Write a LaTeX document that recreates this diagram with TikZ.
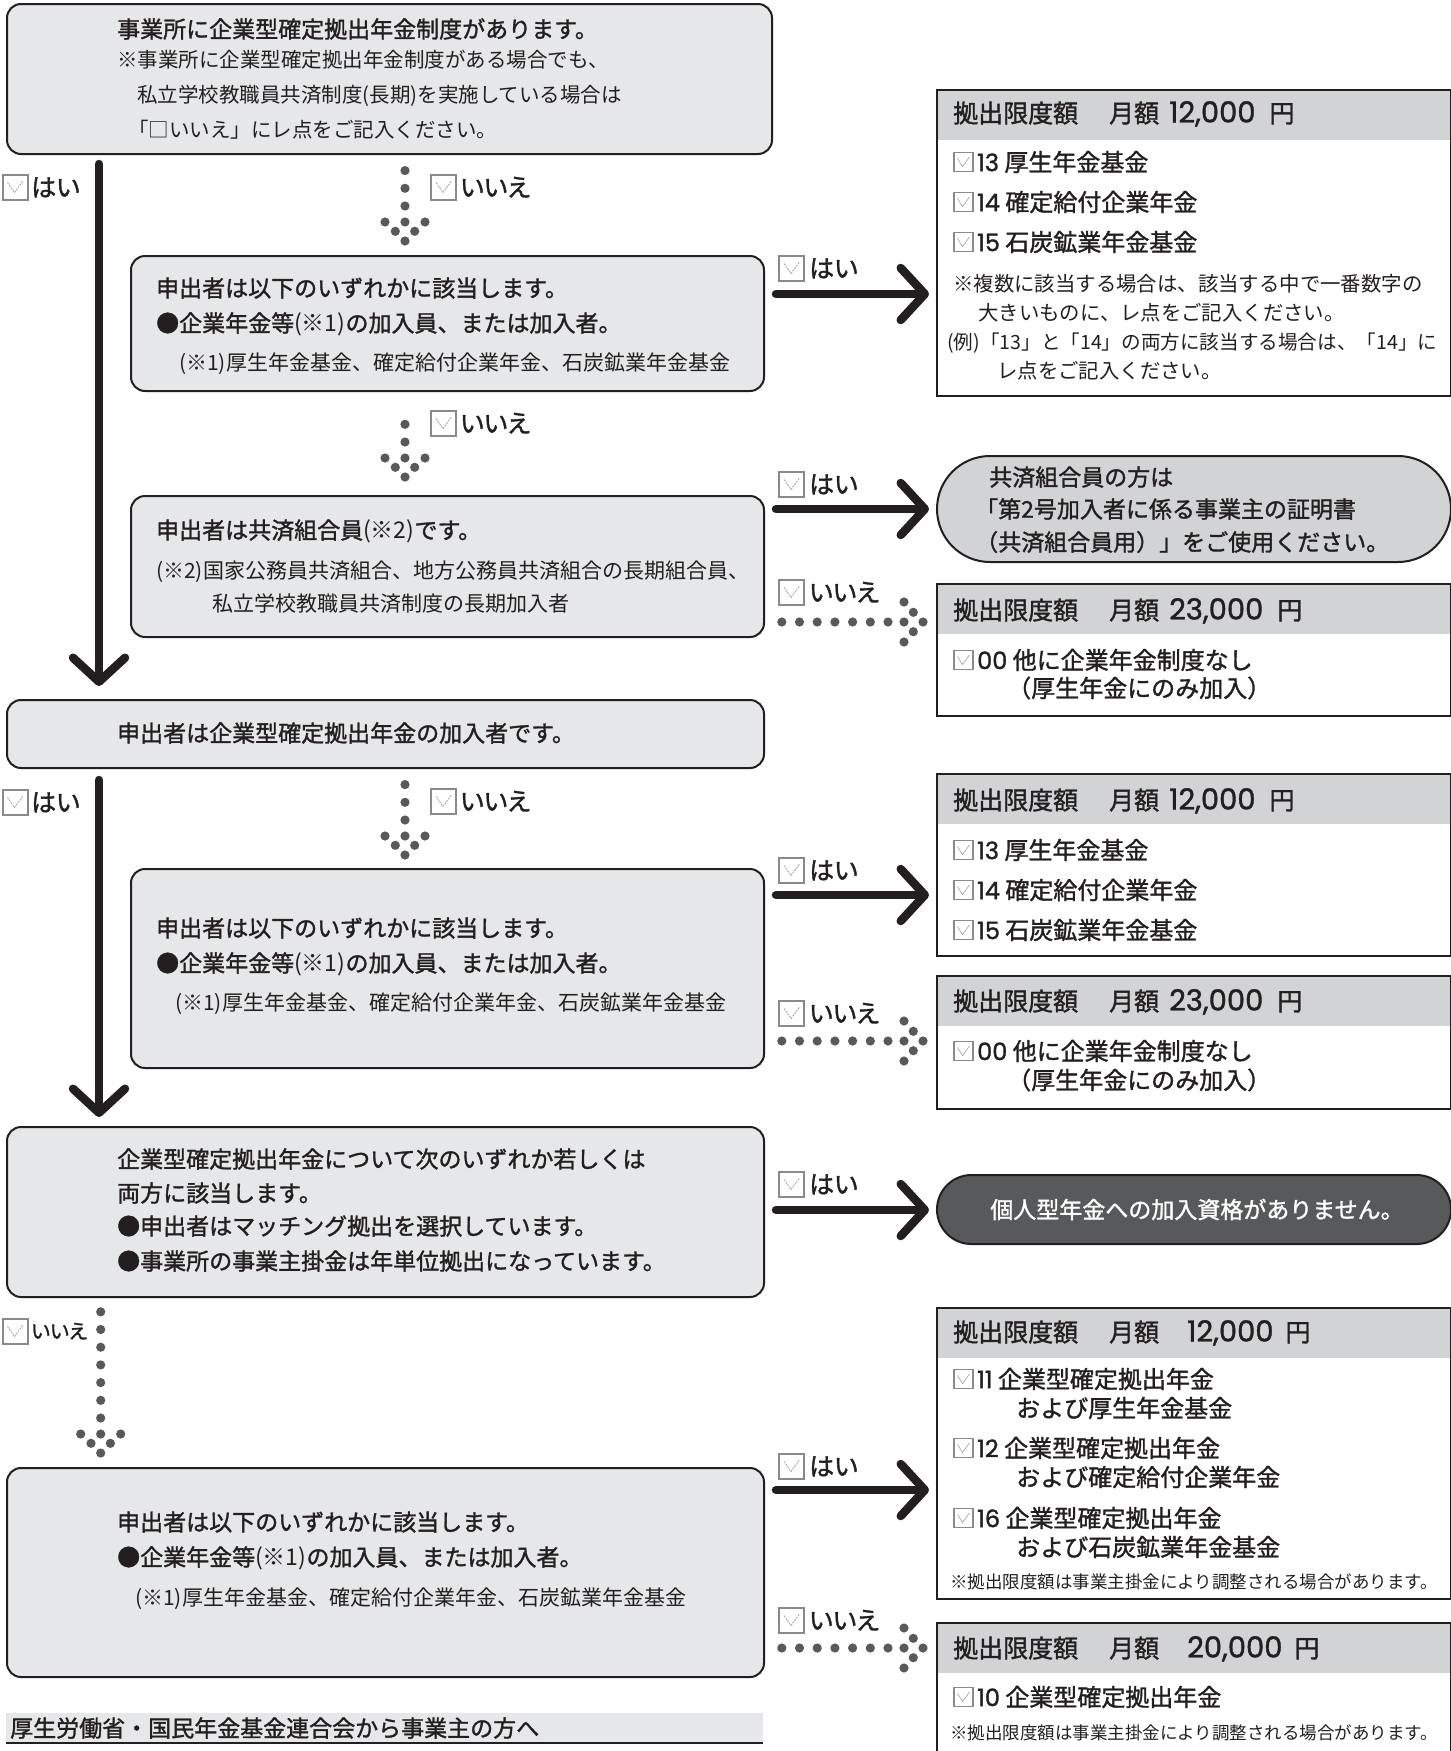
\documentclass[tikz,border=0pt]{standalone}
\usepackage{fontspec}
\setmainfont{Noto Sans CJK JP}
\newfontfamily\medf{Noto Sans CJK JP}[FakeBold=1.4]
\newfontfamily\labf{Noto Sans CJK JP}[RawFeature=+palt, FakeBold=1.4]
\newfontfamily\numf{Poppins}[FakeBold=1.3]
\usetikzlibrary{arrows.meta,calc,decorations.markings}
\definecolor{ink}{HTML}{231F20}
\definecolor{boxfill}{HTML}{E6E7E8}
\definecolor{band}{HTML}{D1D3D4}
\definecolor{darkpill}{HTML}{58595B}
\definecolor{dotc}{HTML}{58595B}
\definecolor{cbgray}{HTML}{8A8A8A}
\definecolor{cbtick}{HTML}{A7A9AC}
\newcommand\fs[1]{\fontsize{#1pt}{#1pt}\selectfont}
\newcommand\nm[1]{{\numf #1}}
\newcommand\hn[1]{{\fs{29}\numf #1}}
\newcommand\dothd{\fill[dotc] (0pt,0pt) circle (4.6pt) (9.7pt,9.7pt) circle (4.6pt) (9.7pt,-9.7pt) circle (4.6pt) (19pt,20pt) circle (4.6pt) (19pt,-20pt) circle (4.6pt) (19pt,0pt) circle (4.6pt);}
\tikzset{
  lbox/.style={draw=ink, line width=2pt, fill=boxfill, rounded corners=14pt, anchor=north west, inner sep=0pt},
  rbox/.style={draw=ink, line width=2pt, fill=white, anchor=north west, inner sep=0pt,
    path picture={\fill[band] (path picture bounding box.north west) rectangle ([yshift=-50pt]path picture bounding box.north east);}},
  T/.style={anchor=base west, inner sep=0pt, text=ink, font=\fs{#1}, yshift={-0.38*#1pt}},
  TB/.style={T=#1, font={\fs{#1}\medf}},
  LB/.style={T=#1, font={\fs{#1}\labf}},
  bigarr/.style={draw=ink, line width=8.5pt, line cap=round, -{Straight Barb[length=24pt,width=52pt,round]}},
  dotarrow/.style={decoration={markings,
      mark=at position 0 with {\dothd},
      mark=between positions 35pt and 1 step 17.7pt with {\fill[dotc] (0pt,0pt) circle (4.6pt);}},
    postaction={decorate}},
  cbL/.pic={\draw[cbgray, line width=2pt, fill=white] (-12.5,-12.5) rectangle (12.5,12.5);
            \draw[cbtick, line width=0.9pt, dash pattern=on 2pt off 1pt] (-7.5,-4.5) -- (-0.5,5.5) -- (8,-6);},
  cbS/.pic={\draw[cbgray, line width=1.2pt, fill=white] (-9.5,-9.5) rectangle (9.5,9.5);
            \draw[cbtick, line width=0.7pt] (-6,-3.5) -- (-1,4.5) -- (6,-5);}
}
\begin{document}
\begin{tikzpicture}[x=1pt,y=-1pt]
\useasboundingbox (0,0) rectangle (1451,1751);
\clip (0,0) rectangle (1451,1751);
\fill[white] (0,0) rectangle (1451,1751);

% ---------- left boxes ----------
\node[lbox, minimum width=765pt, minimum height=150pt] (b1) at (6,3) {};
\node[lbox, minimum width=633pt, minimum height=135pt] (b2) at (130,255) {};
\node[lbox, minimum width=633pt, minimum height=141pt] (b3) at (130,495) {};
\node[lbox, minimum width=757pt, minimum height=68pt] (b4) at (6,699) {};
\node[lbox, minimum width=633pt, minimum height=199pt] (b5) at (130,868) {};
\node[lbox, minimum width=757pt, minimum height=170pt] (b6) at (6,1126) {};
\node[lbox, minimum width=757pt, minimum height=209pt] (b7) at (6,1467) {};

% ---------- right boxes ----------
\node[rbox, minimum width=514pt, minimum height=306pt] (r1) at (936,89) {};
\node[draw=ink, line width=2pt, fill=band, rounded corners=53pt, anchor=north west, inner sep=0pt, minimum width=514pt, minimum height=106pt] (p1) at (936,455) {};
\node[rbox, minimum width=514pt, minimum height=132pt] (r2) at (936,583) {};
\node[rbox, minimum width=514pt, minimum height=182pt] (r3) at (936,773) {};
\node[rbox, minimum width=514pt, minimum height=133pt] (r4) at (936,975) {};
\node[draw=ink, line width=2pt, fill=darkpill, rounded corners=34.5pt, anchor=north west, inner sep=0pt, minimum width=514pt, minimum height=69pt] (p2) at (936,1174) {};
\node[rbox, minimum width=514pt, minimum height=291pt] (r5) at (936,1307) {};
\node[rbox, minimum width=514pt, minimum height=200pt] (r6) at (936,1622) {};

% ---------- footer ----------
\node[fill=boxfill, anchor=north west, inner sep=0pt, minimum width=757pt, minimum height=30pt] (ft) at (6,1713) {};
\draw[ink, line width=2pt] (ft.south west) -- (ft.south east);
\node[TB=23] (fta) at (10,1728) {厚生労働省・国民年金基金連合会から事業主の方へ};

% ---------- texts in left boxes ----------
\node[TB=23] (b1a) at (117,29) {事業所に企業型確定拠出年金制度があります。};
\node[T=20.5] (b1b) at (117,60) {※事業所に企業型確定拠出年金制度がある場合でも、};
\node[T=20.5] (b1c) at (137,95) {私立学校教職員共済制度(長期)を実施している場合は};
\node[T=20.5] (b1d) at (128,130) {「□いいえ」にレ点をご記入ください。};

\node[TB=23] (b2a) at (156,288) {申出者は以下のいずれかに該当します。};
\node[TB=23] (b2b) at (156,323) {●企業年金等{\normalfont(※1)}の加入員、または加入者。};
\node[T=21] (b2c) at (179,363) {(※1)厚生年金基金、確定給付企業年金、石炭鉱業年金基金};

\node[TB=23] (b3a) at (156,530) {申出者は共済組合員{\normalfont(※2)}です。};
\node[T=21] (b3b) at (156,571) {(※2)国家公務員共済組合、地方公務員共済組合の長期組合員、};
\node[T=21] (b3c) at (212,604) {私立学校教職員共済制度の長期加入者};

\node[TB=23] (b4a) at (117,733) {申出者は企業型確定拠出年金の加入者です。};

\node[TB=23] (b5a) at (156,928) {申出者は以下のいずれかに該当します。};
\node[TB=23] (b5b) at (156,963) {●企業年金等{\normalfont(※1)}の加入員、または加入者。};
\node[T=21] (b5c) at (175,1003) {(※1)厚生年金基金、確定給付企業年金、石炭鉱業年金基金};

\node[TB=23] (b6a) at (117,1159) {企業型確定拠出年金について次のいずれか若しくは};
\node[TB=23] (b6b) at (117,1193) {両方に該当します。};
\node[TB=23] (b6c) at (117,1226) {●申出者はマッチング拠出を選択しています。};
\node[TB=23] (b6d) at (117,1261) {●事業所の事業主掛金は年単位拠出になっています。};

\node[TB=23] (b7a) at (117,1522) {申出者は以下のいずれかに該当します。};
\node[TB=23] (b7b) at (117,1557) {●企業年金等{\normalfont(※1)}の加入員、または加入者。};
\node[T=21] (b7c) at (135,1597) {(※1)厚生年金基金、確定給付企業年金、石炭鉱業年金基金};

% ---------- texts in right boxes ----------
\node[TB=25] (r1h) at (953,113) {拠出限度額\hspace{31pt}月額\hspace{10pt}\hn{12,000}\hspace{14pt}円};
\pic at (963.5,162) {cbS}; \node[TB=24] (r1a) at (977,162) {\nm{13} 厚生年金基金};
\pic at (963.5,202) {cbS}; \node[TB=24] (r1b) at (977,202) {\nm{14} 確定給付企業年金};
\pic at (963.5,242) {cbS}; \node[TB=24] (r1c) at (977,242) {\nm{15} 石炭鉱業年金基金};
\node[T=20.4] (r1d) at (953,284) {※複数に該当する場合は、該当する中で一番数字の};
\node[T=20.4] (r1e) at (978,313) {大きいものに、レ点をご記入ください。};
\node[T=19.6] (r1f) at (947,342) {(例)「13」と「14」の両方に該当する場合は、「14」に};
\node[T=20.4] (r1g) at (997,371) {レ点をご記入ください。};

\node[TB=23] (p1a) at (989,477) {共済組合員の方は};
\node[TB=23] (p1b) at (975,509) {「第2号加入者に係る事業主の証明書};
\node[TB=23] (p1c) at (975,542) {（共済組合員用）」をご使用ください。};

\node[TB=25] (r2h) at (953,610) {拠出限度額\hspace{31pt}月額\hspace{10pt}\hn{23,000}\hspace{14pt}円};
\pic at (963.5,660) {cbS}; \node[TB=24] (r2a) at (977,660) {\nm{00} 他に企業年金制度なし};
\node[TB=24] (r2b) at (1007,688) {（厚生年金にのみ加入）};

\node[TB=25] (r3h) at (953,800) {拠出限度額\hspace{31pt}月額\hspace{10pt}\hn{12,000}\hspace{14pt}円};
\pic at (963.5,850) {cbS}; \node[TB=24] (r3a) at (977,850) {\nm{13} 厚生年金基金};
\pic at (963.5,890) {cbS}; \node[TB=24] (r3b) at (977,890) {\nm{14} 確定給付企業年金};
\pic at (963.5,930) {cbS}; \node[TB=24] (r3c) at (977,930) {\nm{15} 石炭鉱業年金基金};

\node[TB=25] (r4h) at (953,1001) {拠出限度額\hspace{31pt}月額\hspace{10pt}\hn{23,000}\hspace{14pt}円};
\pic at (963.5,1051) {cbS}; \node[TB=24] (r4a) at (977,1051) {\nm{00} 他に企業年金制度なし};
\node[TB=24] (r4b) at (1007,1080) {（厚生年金にのみ加入）};

\node[anchor=base, inner sep=0pt, text=white, font={\fs{23}\medf}, yshift={-0.38*23pt}] (p2a) at ([xshift=3pt]p2.center) {個人型年金への加入資格がありません。};

\node[TB=25] (r5h) at (953,1332) {拠出限度額\hspace{31pt}月額\hspace{28pt}\hn{12,000}\hspace{12pt}円};
\pic at (963.5,1379) {cbS}; \node[TB=24] (r5a) at (977,1379) {\nm{11} 企業型確定拠出年金};
\node[TB=24] (r5b) at (1016,1408) {および厚生年金基金};
\pic at (963.5,1448) {cbS}; \node[TB=24] (r5c) at (977,1448) {\nm{12} 企業型確定拠出年金};
\node[TB=24] (r5d) at (1016,1477) {および確定給付企業年金};
\pic at (963.5,1518) {cbS}; \node[TB=24] (r5e) at (977,1518) {\nm{16} 企業型確定拠出年金};
\node[TB=24] (r5f) at (1016,1547) {および石炭鉱業年金基金};
\node[T=17.5] (r5g) at (950,1582) {※拠出限度額は事業主掛金により調整される場合があります。};

\node[TB=25] (r6h) at (953,1648) {拠出限度額\hspace{31pt}月額\hspace{28pt}\hn{20,000}\hspace{12pt}円};
\pic at (963.5,1697) {cbS}; \node[TB=24] (r6a) at (977,1697) {\nm{10} 企業型確定拠出年金};
\node[T=17.5] (r6b) at (950,1733) {※拠出限度額は事業主掛金により調整される場合があります。};

% ---------- solid arrows ----------
\coordinate (v1s) at ([xshift=93pt,yshift=-9pt]b1.south west);
\draw[bigarr, shorten >=13pt] (v1s) -- (v1s |- b4.north);
\coordinate (v2s) at ([xshift=93pt,yshift=-11pt]b4.south west);
\draw[bigarr, shorten >=9pt] (v2s) -- (v2s |- b6.north);

\coordinate (h1s) at ([xshift=11pt,yshift=29.5pt]b2.east);
\draw[bigarr, shorten >=7pt] (h1s) -- (h1s -| r1.west);
\coordinate (h2s) at ([xshift=11pt,yshift=57.5pt]b3.east);
\draw[bigarr, shorten >=7pt] (h2s) -- (h2s -| p1.west);
\coordinate (h3s) at ([xshift=11pt,yshift=73.5pt]b5.east);
\draw[bigarr, shorten >=7pt] (h3s) -- (h3s -| r3.west);
\coordinate (h4s) at ([xshift=11pt,yshift=2pt]b6.east);
\draw[bigarr, shorten >=7pt] (h4s) -- (h4s -| p2.west);
\coordinate (h5s) at ([xshift=11pt,yshift=82.5pt]b7.east);
\draw[bigarr, shorten >=7pt] (h5s) -- (h5s -| r5.west);

% ---------- dotted arrows (drawn from tip back to start) ----------
\coordinate (d1s) at ([xshift=399pt,yshift=-10pt]b1.south west);
\path[dotarrow] ($(d1s |- b2.north)+(0,-14)$) -- (d1s);
\coordinate (d2s) at ([xshift=275pt,yshift=-15pt]b2.south west);
\path[dotarrow] ($(d2s |- b3.north)+(0,-18)$) -- (d2s);
\coordinate (d3s) at ([xshift=399pt,yshift=-8pt]b4.south west);
\path[dotarrow] ($(d3s |- b5.north)+(0,-13)$) -- (d3s);
\coordinate (d4s) at ([xshift=94.7pt,yshift=-9pt]b6.south west);
\path[dotarrow] ($(d4s |- b7.north)+(0,-14)$) -- (d4s);

\coordinate (e1s) at ([xshift=15pt,yshift=-55.5pt]b3.east);
\path[dotarrow] ($(e1s -| r2.west)+(-13,0)$) -- (e1s);
\coordinate (e2s) at ([xshift=15pt,yshift=-72.5pt]b5.east);
\path[dotarrow] ($(e2s -| r4.west)+(-13,0)$) -- (e2s);
\coordinate (e3s) at ([xshift=15pt,yshift=-75.5pt]b7.east);
\path[dotarrow] ($(e3s -| r6.west)+(-13,0)$) -- (e3s);

% ---------- yes / no labels ----------
\pic at (15,187) {cbL};      \node[LB=25] (l1) at (31,187) {はい};
\pic at (443.5,187) {cbL};   \node[LB=25] (l2) at (460,187) {いいえ};
\pic at (791.5,268) {cbL};   \node[LB=25] (l3) at (809,268) {はい};
\pic at (443.5,423) {cbL};   \node[LB=25] (l4) at (460,423) {いいえ};
\pic at (791.5,484) {cbL};   \node[LB=25] (l5) at (809,484) {はい};
\pic at (791.5,592) {cbL};   \node[LB=25] (l6) at (809,592) {いいえ};
\pic at (15,802) {cbL};      \node[LB=25] (l7) at (31,802) {はい};
\pic at (443.5,801) {cbL};   \node[LB=25] (l8) at (460,801) {いいえ};
\pic at (791.5,870) {cbL};   \node[LB=25] (l9) at (809,870) {はい};
\pic at (791.5,1013) {cbL};  \node[LB=25] (l10) at (809,1013) {いいえ};
\pic at (791.5,1184) {cbL};  \node[LB=25] (l11) at (809,1184) {はい};
\pic at (15,1331) {cbL};     \node[LB=20] (l12) at (31,1331) {いいえ};
\pic at (791.5,1466) {cbL};  \node[LB=25] (l13) at (809,1466) {はい};
\pic at (791.5,1620) {cbL};  \node[LB=25] (l14) at (809,1620) {いいえ};
\end{tikzpicture}
\end{document}
